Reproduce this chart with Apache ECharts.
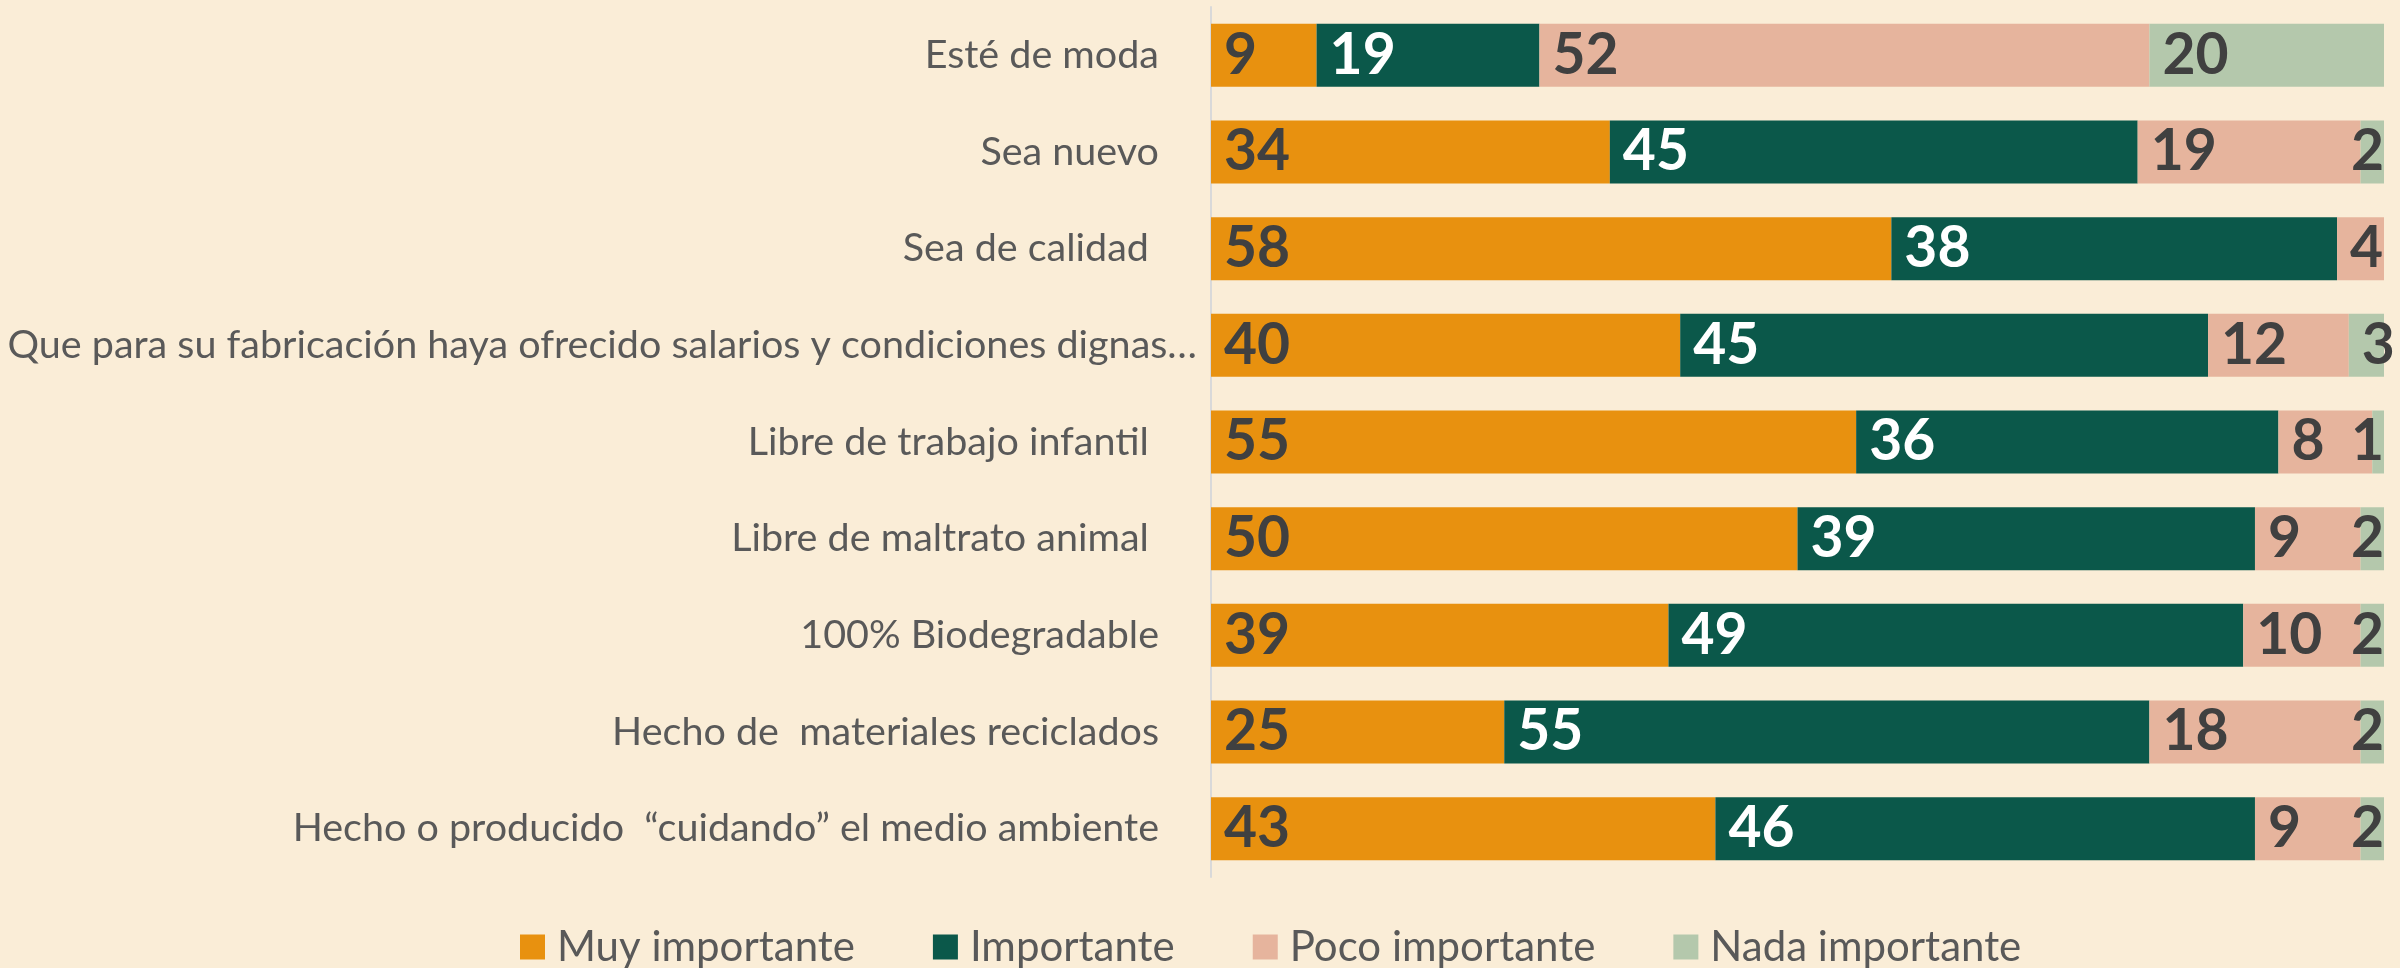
<!DOCTYPE html>
<html>
<head>
<meta charset="utf-8">
<script src="https://cdn.jsdelivr.net/npm/echarts@6/dist/echarts.min.js"></script>
<style>
html,body{margin:0;padding:0;background:#FAEDD7;}
#chart{width:2400px;height:968px;}
</style>
</head>
<body>
<div id="chart"></div>
<script>
const categories = [
  "Esté de moda",
  "Sea nuevo",
  "Sea de calidad ",
  "Que para su fabricación haya ofrecido salarios y condiciones dignas…",
  "Libre de trabajo infantil ",
  "Libre de maltrato animal ",
  "100% Biodegradable",
  "Hecho de  materiales reciclados",
  "Hecho o producido  “cuidando” el medio ambiente"
];
const seriesNames = ["Muy importante", "Importante", "Poco importante", "Nada importante"];
const muyImportante   = [9, 34, 58, 40, 55, 50, 39, 25, 43];
const importante      = [19, 45, 38, 45, 36, 39, 49, 55, 46];
const pocoImportante  = [52, 19, 4, 12, 8, 9, 10, 18, 9];
const nadaImportante  = [20, 2, 0, 3, 1, 2, 2, 2, 2];

const colors = ["#E8910F", "#0B584A", "#E6B49D", "#B4C8AC"];
const labelColors = ["#404040", "#FFFFFF", "#404040", "#404040"];
const values = [muyImportante, importante, pocoImportante, nadaImportante];

const chart = echarts.init(document.getElementById('chart'), null, {renderer: 'canvas'});

const series = values.map((arr, i) => ({
  name: seriesNames[i],
  type: 'bar',
  stack: 'total',
  barWidth: 63,
  itemStyle: {color: colors[i]},
  label: {
    show: true,
    position: 'insideLeft',
    distance: 13,
    color: labelColors[i],
    fontFamily: 'Lato',
    fontWeight: 'bold',
    fontSize: 57,
    formatter: p => (p.value === 0 ? '' : String(p.value))
  },
  data: arr.map(v => (v > 0 && v <= 2 ? {value: v, label: {position: 'insideRight', distance: 0}} : v))
}));

chart.setOption({
  backgroundColor: '#FAEDD7',
  animation: false,
  grid: {left: 1211, right: 16, top: 7, bottom: 91, containLabel: false},
  xAxis: {
    type: 'value', min: 0, max: 100,
    show: false
  },
  yAxis: {
    type: 'category',
    inverse: true,
    data: categories,
    axisLine: {show: true, lineStyle: {color: '#D9D9D9', width: 2}},
    axisTick: {show: false},
    axisLabel: {
      margin: 14,
      fontFamily: 'Lato',
      fontSize: 39.5,
      color: '#595959',
      formatter: v => (v.length > 60 ? '{l|' + v + '}' : '{n|' + v + '}'),
      rich: {
        n: {fontFamily: 'Lato', fontSize: 39.5, color: '#595959', padding: [0, 38, 0, 0]},
        l: {fontFamily: 'Lato', fontSize: 39.5, color: '#595959'}
      }
    }
  },
  legend: {
    left: 515,
    top: 921,
    itemWidth: 25,
    itemHeight: 25,
    itemGap: 78,
    icon: 'rect',
    textStyle: {fontFamily: 'Lato', fontSize: 42, color: '#595959', padding: [0, 0, 0, 7]},
    data: seriesNames
  },
  series: series
});
</script>
</body>
</html>
